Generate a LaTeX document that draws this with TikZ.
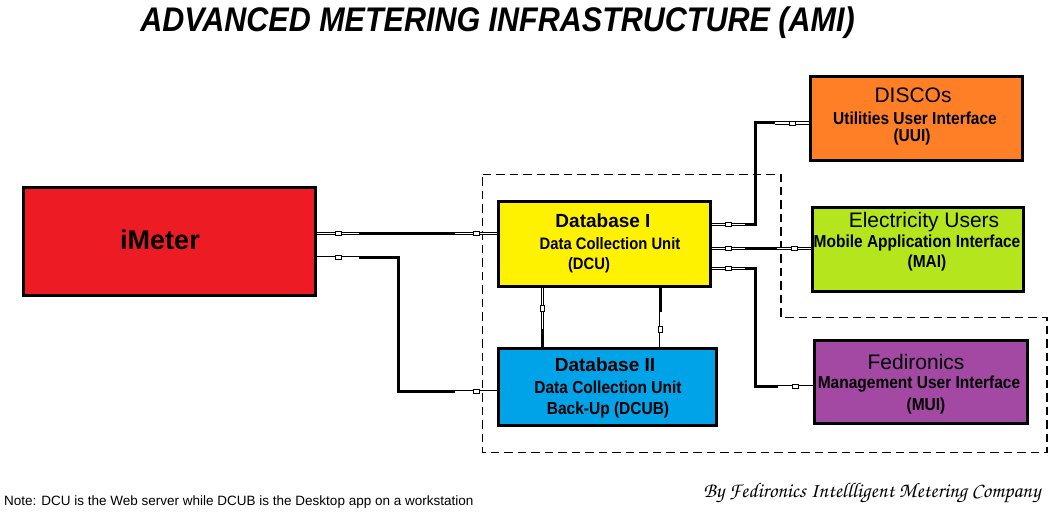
\documentclass[tikz,border=0pt]{standalone}
\usepackage{fontspec}
\setmainfont{Liberation Sans}
\usetikzlibrary{calc}
\definecolor{amired}{HTML}{ED1C24}
\definecolor{amiyellow}{HTML}{FFF200}
\definecolor{amiblue}{HTML}{00A2E8}
\definecolor{amiorange}{HTML}{FF7F27}
\definecolor{amigreen}{HTML}{B5E61D}
\definecolor{amipurple}{HTML}{A349A4}
\newcommand\talltext[1]{\scalebox{1}[1.12]{#1}}
\tikzset{
  box/.style={draw=black, line width=3pt, inner sep=0pt},
  conn/.style={line width=3pt, draw=black},
  capline/.style={draw=black, double=white, double distance=1.6pt, line width=0.8pt},
  capsq/.style={draw=black, fill=white, line width=0.6pt, rectangle, minimum width=6pt, minimum height=4pt, inner sep=0pt},
  zone/.style={line width=1.1pt, dash pattern=on 8.5pt off 5pt},
  hd/.style={font=\fontsize{21}{24}\selectfont, inner sep=0pt},
  sub/.style={font=\bfseries\fontsize{15.5}{18}\selectfont, inner sep=0pt},
  subsm/.style={font=\bfseries\fontsize{14.8}{17}\selectfont, inner sep=0pt},
  dbh/.style={font=\bfseries\fontsize{19}{22}\selectfont, inner sep=0pt},
}
\newcommand\capseg[3]{\draw[capline] (#1) -- node[capsq, sloped]{} ($(#1)!#3!(#2)$);}
\begin{document}
\begin{tikzpicture}[x=1pt, y=-1pt]
\useasboundingbox (0,0) rectangle (1057,516);
\fill[white] (0,0) rectangle (1057,516);

% title
\node[font=\bfseries\itshape\fontsize{30.5}{34}\selectfont, inner sep=0pt] (title) at (497.5,23) {\talltext{ADVANCED METERING INFRASTRUCTURE (AMI)}};

% dashed zone
\draw[zone] (482.5,174.5) -- (781,174.5) -- (781,317.5) -- (1047,317.5) -- (1047,452.7) -- (482.5,452.7) -- cycle;

% boxes
\node[box, fill=amired, minimum width=292pt, minimum height=108pt] (imeter) at (169.5,241.5) {};
\node[box, fill=amiyellow, minimum width=212pt, minimum height=85pt] (dbi) at (604.5,244) {};
\node[box, fill=amiblue, minimum width=218pt, minimum height=77pt] (dbii) at (607.5,387) {};
\node[box, fill=amiorange, minimum width=212pt, minimum height=84pt] (disco) at (916.5,118.5) {};
\node[box, fill=amigreen, minimum width=211pt, minimum height=84pt] (elec) at (918,249.5) {};
\node[box, fill=amipurple, minimum width=213pt, minimum height=83pt] (fed) at (921,382) {};

% connectors
\coordinate (k2) at (398,0);
\coordinate (k3) at (755,0);
\coordinate (a1) at ($(imeter.east)+(0,-8.2)$);
\coordinate (b1) at (dbi.west |- a1);
\draw[conn] (a1) -- (b1);
\capseg{a1}{b1}{42pt}
\capseg{b1}{a1}{42pt}

\coordinate (a2) at ($(imeter.east)+(0,16.2)$);
\coordinate (b2) at ($(dbii.west)+(0,4.7)$);
\coordinate (m2a) at (a2 -| k2);
\coordinate (m2b) at (k2 |- b2);
\draw[conn] (a2) -- (m2a) -- (m2b) -- (b2);
\capseg{a2}{m2a}{42pt}
\capseg{b2}{m2b}{42pt}

\coordinate (a3) at ($(dbi.east)+(0,-19.7)$);
\coordinate (b3) at ($(disco.west)+(0,4.5)$);
\coordinate (m3a) at (a3 -| k3);
\coordinate (m3b) at (k3 |- b3);
\draw[conn] (a3) -- (m3a) -- (m3b) -- (b3);
\capseg{a3}{m3a}{33pt}
\capseg{b3}{m3b}{34pt}

\coordinate (a4) at ($(dbi.east)+(0,4.3)$);
\coordinate (b4) at (elec.west |- a4);
\draw[conn] (a4) -- (b4);
\capseg{a4}{b4}{33pt}
\capseg{b4}{a4}{34pt}

\coordinate (a5) at ($(dbi.east)+(0,24.3)$);
\coordinate (b5) at ($(fed.west)+(0,4.7)$);
\coordinate (m5a) at (a5 -| k3);
\coordinate (m5b) at (k3 |- b5);
\draw[conn] (a5) -- (m5a) -- (m5b) -- (b5);
\capseg{a5}{m5a}{33pt}
\capseg{b5}{m5b}{35pt}

\coordinate (a6) at ($(dbi.south)+(-62.2,0)$);
\coordinate (b6) at (dbii.north -| a6);
\draw[conn] (a6) -- (b6);
\capseg{a6}{b6}{41pt}

\coordinate (a7) at ($(dbi.south)+(56.2,0)$);
\coordinate (b7) at (dbii.north -| a7);
\draw[conn] (a7) -- (b7);
\capseg{b7}{a7}{35pt}

% texts
\node[font=\bfseries\fontsize{27}{30}\selectfont, inner sep=0pt] (t0) at (160,240) {iMeter};

\node[dbh] (t1a) at (603,221) {Database I};
\node[subsm] (t1b) at (610,244) {\talltext{Data Collection Unit}};
\node[subsm] (t1c) at (589,265) {\talltext{(DCU)}};

\node[dbh] (t2a) at (605,365) {Database II};
\node[sub] (t2b) at (608,387) {\talltext{Data Collection Unit}};
\node[sub] (t2c) at (608,410) {\talltext{Back-Up (DCUB)}};

\node[hd] (t3a) at (913,95) {DISCOs};
\node[sub] (t3b) at (915,118) {\talltext{Utilities User Interface}};
\node[sub] (t3c) at (912,137) {\talltext{(UUI)}};

\node[hd] (t4a) at (924,222) {Electricity Users};
\node[sub] (t4b) at (917,243) {\talltext{Mobile Application Interface}};
\node[sub] (t4c) at (927,263) {\talltext{(MAI)}};

\node[hd] (t5a) at (916,362) {Fedironics};
\node[sub] (t5b) at (919,384) {\talltext{Management User Interface}};
\node[sub] (t5c) at (926,406) {\talltext{(MUI)}};

% footer
\node[font=\fontsize{13.5}{16}\selectfont, inner sep=0pt, anchor=base west] (note) at (4,505) {Note: DCU is the Web server while DCUB is the Desktop app on a workstation};
\node[font=\fontencoding{OT1}\fontfamily{pzc}\fontseries{mb}\fontshape{it}\fontsize{21}{24}\selectfont, inner sep=0pt] (sign) at (872,493) {By Fedironics Intellligent Metering Company};
\end{tikzpicture}
\end{document}
